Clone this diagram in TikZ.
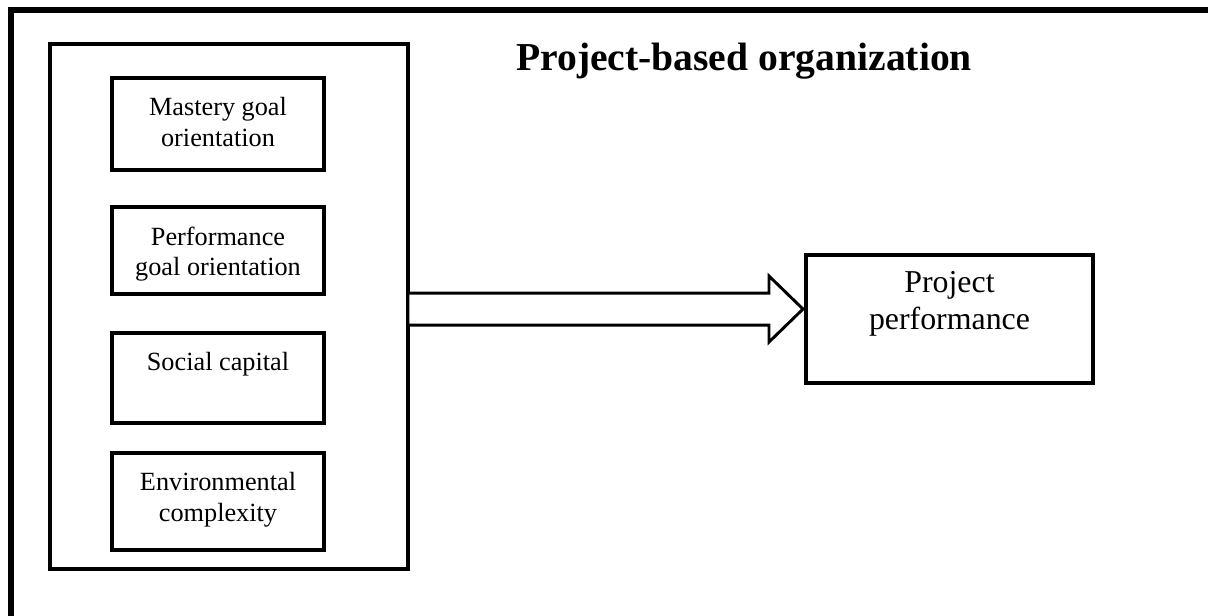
\documentclass[tikz,border=0pt]{standalone}
\usepackage{fontspec}
\setmainfont{Liberation Serif}
\usetikzlibrary{positioning,calc}
\tikzset{
  frameline/.style={line width=4.5pt, line join=miter},
  grpbox/.style={draw, line width=2.3pt, minimum width=268.5pt, minimum height=393.75pt, inner sep=0pt, outer sep=0pt},
  factor/.style={draw, line width=2.3pt, minimum width=159pt, inner sep=0pt, outer sep=0pt},
  factortext/.style={align=center, inner sep=0pt, font=\fontsize{19.7}{23}\selectfont},
  outbox/.style={draw, line width=2.3pt, minimum width=215.25pt, minimum height=96pt, inner sep=0pt, outer sep=0pt},
  outtext/.style={align=center, inner sep=0pt, font=\fontsize{23.9}{27.75}\selectfont},
  headline/.style={inner sep=0pt, font=\fontsize{29.7}{34}\selectfont\bfseries},
  bigarrow/.style={draw, line width=2.2pt, fill=white, line join=miter},
}

\begin{document}
\begin{tikzpicture}[x=0.75pt, y=-0.75pt]
\useasboundingbox (0,0) rectangle (1208,615);
% frame, open at right and bottom
\coordinate (fbot) at (11,620);
\coordinate (fcorner) at (11,10);
\coordinate (fright) at (1215,10);
\draw[frameline] (fbot) -- (fcorner) -- (fright);

\node[headline, anchor=base] (title) at (744,70) {Project-based organization};

% organization box with the four factors
\node[grpbox] (org) at (229,306.5) {};
\node[factor, minimum height=69pt] (mastery) at (218,124) {};
\node[factortext, below=14.5pt of mastery.north] (masteryt) {Mastery goal\\orientation};
\node[factor, minimum height=65.25pt] (perfgoal) at (218,250.5) {};
\node[factortext, below=14.5pt of perfgoal.north] (perfgoalt) {Performance\\goal orientation};
\node[factor, minimum height=67.5pt] (social) at (218,378) {};
\node[factortext, below=14.5pt of social.north] (socialt) {Social capital};
\node[factor, minimum height=72.75pt] (envir) at (218,501.5) {};
\node[factortext, below=14.5pt of envir.north] (envirt) {Environmental\\complexity};

% outcome
\node[outbox] (perf) at (949.5,319) {};
\node[outtext, below=12pt of perf.north] (perft) {Project\\performance};

% block arrow
\coordinate (atail) at ([yshift=-1.9pt]org.east);
\coordinate (atip) at ([xshift=-2.25pt]perf.west |- atail);
\draw[bigarrow] ($(atail)+(0,-16)$) -- ($(atip)+(-34,-16)$) -- ($(atip)+(-34,-33)$) -- (atip)
  -- ($(atip)+(-34,33)$) -- ($(atip)+(-34,16)$) -- ($(atail)+(0,16)$) -- cycle;
\end{tikzpicture}
\end{document}
